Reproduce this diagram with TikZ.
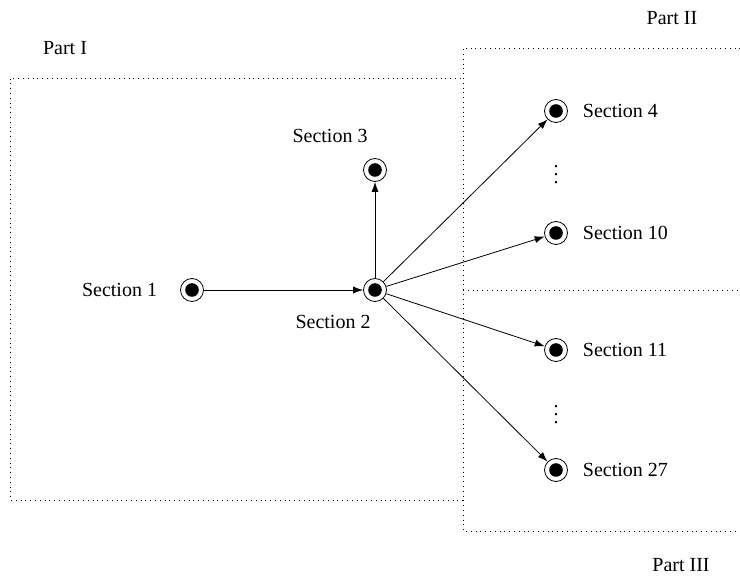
\documentclass[tikz,border=0pt]{standalone}
\usepackage{fontspec}
\setmainfont{Liberation Serif}
\usetikzlibrary{arrows.meta,positioning}
\tikzset{
  sezione/.style={circle,draw,minimum size=11.5pt,inner sep=0pt,
    path picture={\fill (path picture bounding box.center) circle (3.4pt);}},
  freccia/.style={-{Latex[length=5pt,width=3.5pt]}},
  parte/.style={dotted},
}
\begin{document}
\begin{tikzpicture}[x=0.5pt,y=-0.5pt,font=\normalsize]
\useasboundingbox (0,0) rectangle (740,577);
%parti
\draw[parte] (463,500) -- (10,500) -- (10,78) -- (463,78);
\draw[parte] (745,48) -- (463,48) -- (463,531) -- (745,531);
\draw[parte] (463,290) -- (745,290);
\node (p1) at (65,48) {Part I};
\node (p2) at (672,18) {Part II};
\node (p3) at (681,565) {Part III};
%sezioni
\node[sezione] (s1) at (192,290) {};
\node[sezione] (s2) at (375,290) {};
\node[sezione] (s3) at (375,170) {};
\node[sezione] (s4) at (556,111) {};
\node[sezione] (s10) at (556,233) {};
\node[sezione] (s11) at (556,350) {};
\node[sezione] (s27) at (556,470) {};
\node[left=8pt of s1] (l1) {Section 1};
\node (l2) at (333,322) {Section 2};
\node (l3) at (330,136) {Section 3};
\node[right=4pt of s4] (l4) {Section 4};
\node[right=4pt of s10] (l10) {Section 10};
\node[right=4pt of s11] (l11) {Section 11};
\node[right=4pt of s27] (l27) {Section 27};
\node[inner sep=0pt] (d1) at (556,169) {$\vdots$};
\node[inner sep=0pt] (d2) at (556,409) {$\vdots$};
%frecce
\draw[freccia] (s1) -- (s2);
\foreach \t in {s3,s4,s10,s11,s27}
  \draw[freccia] (s2) -- (\t);
\end{tikzpicture}
\end{document}
